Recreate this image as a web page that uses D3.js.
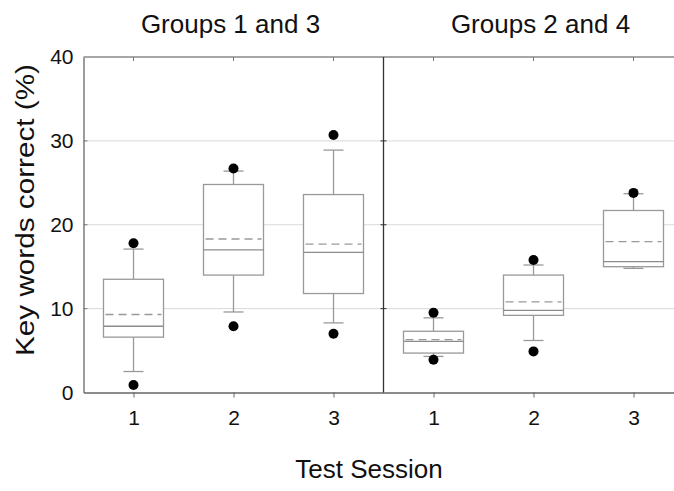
<!DOCTYPE html>
<html>
<head>
<meta charset="utf-8">
<script src="https://cdn.jsdelivr.net/npm/d3@7"></script>
<style>
  body { margin: 0; background: #fff; }
  svg { display: block; font-family: "Liberation Sans", Arial, sans-serif; }
  .axis path, .axis line { stroke: #666; }
  .axis text { font-size: 21px; fill: #111; }
</style>
</head>
<body>
<div class="charts-container"></div>
<script>
"use strict";

// Panels and sessions
const panels = ["Groups 1 and 3", "Groups 2 and 4"];
const sessions = [1, 2, 3];
const yTicks = [0, 10, 20, 30, 40];

// Box statistics per panel, one value per session
const whiskerLow  = [[2.5, 9.6, 8.3], [4.3, 6.2, 14.8]];
const q1          = [[6.6, 14.0, 11.8], [4.7, 9.2, 15.0]];
const median      = [[7.9, 17.0, 16.7], [6.1, 9.8, 15.6]];
const q3          = [[13.5, 24.8, 23.6], [7.3, 14.0, 21.7]];
const whiskerHigh = [[17.1, 26.4, 28.9], [8.9, 15.2, 23.7]];
const mean        = [[9.3, 18.3, 17.7], [6.3, 10.8, 18.0]];
const outliers    = [[[0.9, 17.8], [7.9, 26.7], [7.0, 30.7]], [[3.9, 9.5], [4.9, 15.8], [23.8]]];

const width = 674;
const height = 491;
const plotTop = 57;
const plotBottom = 392.5;
const plotLeft = 83.5;
const panelWidth = 300;

const svg = d3.select(".charts-container")
  .append("svg")
    .attr("width", width)
    .attr("height", height);

const yScale = d3.scaleLinear()
  .domain([0, 40])
  .range([plotBottom, plotTop]);

const innerTicks = yTicks.filter(d => d > 0 && d < 40);

// Horizontal grid lines
svg.append("g")
  .selectAll("line")
  .data(innerTicks)
  .join("line")
    .attr("x1", plotLeft)
    .attr("x2", width)
    .attr("y1", d => yScale(d))
    .attr("y2", d => yScale(d))
    .attr("stroke", "#d9d9d9")
    .attr("stroke-width", 1);

// Y axis
const yAxis = d3.axisLeft(yScale)
  .tickValues(yTicks)
  .tickSize(0)
  .tickPadding(10);

svg.append("g")
    .attr("class", "axis axis-y")
    .attr("transform", `translate(${plotLeft}, 0)`)
    .call(yAxis)
    .call(g => g.select(".domain").attr("stroke", "#555").attr("stroke-width", 1.3));

// Top border of the plot
svg.append("line")
    .attr("x1", plotLeft)
    .attr("x2", width)
    .attr("y1", plotTop)
    .attr("y2", plotTop)
    .attr("stroke", "#888")
    .attr("stroke-width", 1.3);

panels.forEach((title, p) => {
  const x0 = plotLeft + p * panelWidth;
  const xScale = d3.scaleLinear()
    .domain([0.5, 3.5])
    .range([x0, x0 + panelWidth]);

  // Bottom axis with labels
  const xAxis = d3.axisBottom(xScale)
    .tickValues(sessions)
    .tickFormat(d3.format("d"))
    .tickSize(5)
    .tickPadding(13)
    .tickSizeOuter(0);

  svg.append("g")
      .attr("class", "axis axis-x")
      .attr("transform", `translate(0, ${plotBottom})`)
      .call(xAxis)
      .call(g => g.select(".domain").attr("stroke", "#777").attr("stroke-width", 1.3))
      .call(g => g.selectAll(".tick line").attr("stroke", "#555"));

  // Inward ticks on the top border
  svg.append("g")
    .selectAll("line")
    .data(sessions)
    .join("line")
      .attr("x1", d => xScale(d))
      .attr("x2", d => xScale(d))
      .attr("y1", plotTop)
      .attr("y2", plotTop + 4)
      .attr("stroke", "#777");

  // Panel title
  svg.append("text")
      .attr("x", xScale(2) + (p === 0 ? -3 : 7))
      .attr("y", 33)
      .attr("text-anchor", "middle")
      .attr("font-size", "26px")
      .attr("fill", "#111")
      .text(title);

  const boxes = sessions.map((s, i) => ({
    session: s,
    lo: whiskerLow[p][i],
    q1: q1[p][i],
    med: median[p][i],
    q3: q3[p][i],
    hi: whiskerHigh[p][i],
    mean: mean[p][i],
    out: outliers[p][i]
  }));

  const boxWidth = 60;
  const capWidth = 20;

  const g = svg.append("g")
    .selectAll("g.box")
    .data(boxes)
    .join("g")
      .attr("class", "box")
      .attr("transform", d => `translate(${xScale(d.session)}, 0)`);

  // Whiskers
  g.append("line")
      .attr("x1", 0).attr("x2", 0)
      .attr("y1", d => yScale(d.hi))
      .attr("y2", d => yScale(d.q3))
      .attr("stroke", "#999").attr("stroke-width", 1.3);
  g.append("line")
      .attr("x1", 0).attr("x2", 0)
      .attr("y1", d => yScale(d.q1))
      .attr("y2", d => yScale(d.lo))
      .attr("stroke", "#999").attr("stroke-width", 1.3);

  // Whisker caps
  g.selectAll("line.cap")
    .data(d => [d.lo, d.hi])
    .join("line")
      .attr("class", "cap")
      .attr("x1", -capWidth / 2).attr("x2", capWidth / 2)
      .attr("y1", d => yScale(d))
      .attr("y2", d => yScale(d))
      .attr("stroke", "#999").attr("stroke-width", 1.3);

  // Box
  g.append("rect")
      .attr("x", -boxWidth / 2)
      .attr("width", boxWidth)
      .attr("y", d => yScale(d.q3))
      .attr("height", d => yScale(d.q1) - yScale(d.q3))
      .attr("fill", "#fff")
      .attr("stroke", "#999")
      .attr("stroke-width", 1.3);

  // Median
  g.append("line")
      .attr("x1", -boxWidth / 2).attr("x2", boxWidth / 2)
      .attr("y1", d => yScale(d.med))
      .attr("y2", d => yScale(d.med))
      .attr("stroke", "#8c8c8c").attr("stroke-width", 1.3);

  // Mean (dashed)
  g.append("line")
      .attr("x1", -boxWidth / 2 + 2).attr("x2", boxWidth / 2 - 2)
      .attr("y1", d => yScale(d.mean))
      .attr("y2", d => yScale(d.mean))
      .attr("stroke", "#999").attr("stroke-width", 1.3)
      .attr("stroke-dasharray", "8,5");

  // Outliers
  g.selectAll("circle")
    .data(d => d.out)
    .join("circle")
      .attr("cx", 0)
      .attr("cy", d => yScale(d))
      .attr("r", 5)
      .attr("fill", "#000");
});

// Divider between panels, with small ticks on both sides
const xDiv = plotLeft + panelWidth;
svg.append("line")
    .attr("x1", xDiv).attr("x2", xDiv)
    .attr("y1", plotTop).attr("y2", plotBottom)
    .attr("stroke", "#333")
    .attr("stroke-width", 1.3);

svg.append("g")
  .selectAll("line")
  .data(innerTicks)
  .join("line")
    .attr("x1", xDiv - 3).attr("x2", xDiv + 3)
    .attr("y1", d => yScale(d))
    .attr("y2", d => yScale(d))
    .attr("stroke", "#333");

// Small inward ticks on the left axis
svg.append("g")
  .selectAll("line")
  .data(innerTicks)
  .join("line")
    .attr("x1", plotLeft).attr("x2", plotLeft + 4)
    .attr("y1", d => yScale(d))
    .attr("y2", d => yScale(d))
    .attr("stroke", "#777");

// Axis titles
svg.append("text")
    .attr("x", 369)
    .attr("y", 478)
    .attr("text-anchor", "middle")
    .attr("font-size", "26px")
    .attr("fill", "#111")
    .text("Test Session");

svg.append("text")
    .attr("transform", "translate(34, 210) rotate(-90)")
    .attr("text-anchor", "middle")
    .attr("font-size", "26px")
    .attr("fill", "#111")
    .attr("textLength", 292)
    .attr("lengthAdjust", "spacingAndGlyphs")
    .text("Key words correct (%)");
</script>
</body>
</html>
